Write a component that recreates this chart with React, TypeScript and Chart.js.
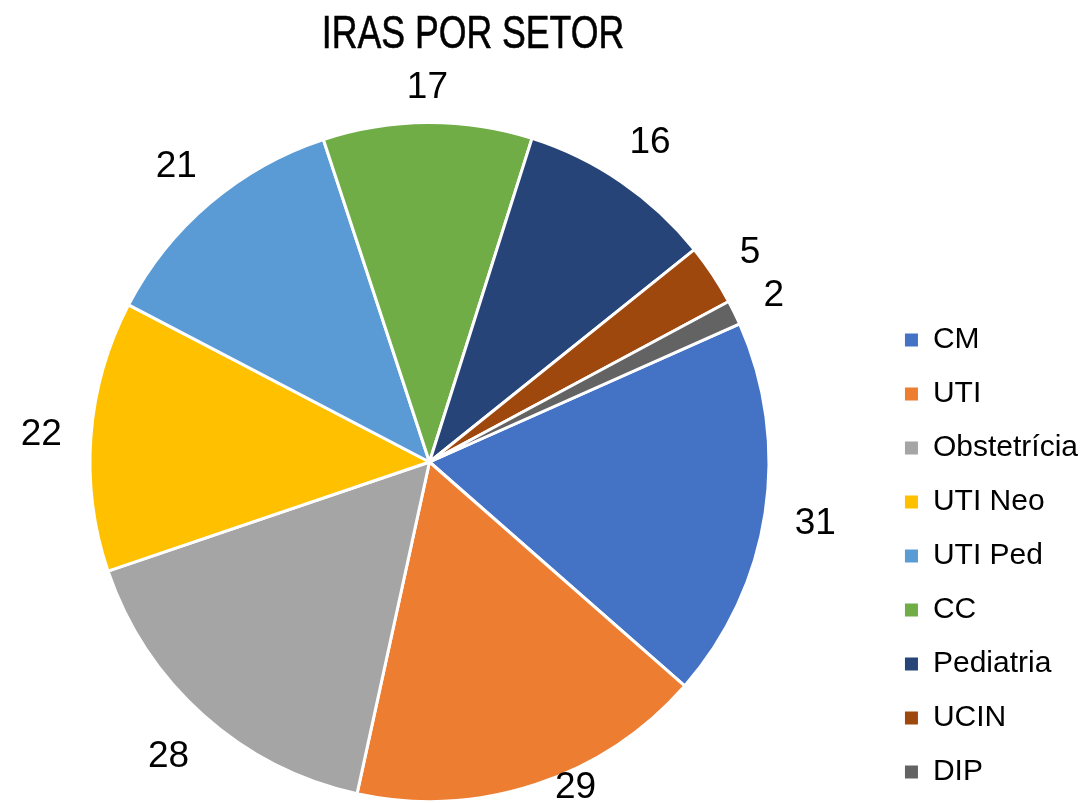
import { useEffect, useRef } from 'react';
import { Chart, registerables } from 'chart.js';

Chart.register(...registerables);

const chartTitle = 'IRAS POR SETOR';
const categories = ['CM', 'UTI', 'Obstetrícia', 'UTI Neo', 'UTI Ped', 'CC', 'Pediatria', 'UCIN', 'DIP'];
const values = [31, 29, 28, 22, 21, 17, 16, 5, 2];
const colors = ['#4472C4', '#ED7D31', '#A5A5A5', '#FFC000', '#5B9BD5', '#70AD47', '#264478', '#9E480E', '#636363'];

// canvas is slightly larger than the page and shifted left, so the pie can sit left of the chart-area centre
const SHIFT_X = 22;
const EXTRA_R = 5;
const CANVAS_W = 1083 + SHIFT_X + EXTRA_R;
const CANVAS_H = 811;

const LABEL_SIZE = 37;
const LABEL_FONT = `${LABEL_SIZE}px "Liberation Sans", Arial, sans-serif`;
const TITLE_FONT = '46px "Liberation Sans", Arial, sans-serif';

const titlePlugin = {
  id: 'customTitle',
  afterDraw(chart: any) {
    const ctx = chart.ctx;
    ctx.save();
    ctx.font = TITLE_FONT;
    ctx.fillStyle = '#000000';
    ctx.strokeStyle = '#000000';
    ctx.lineWidth = 0.6;
    ctx.textAlign = 'center';
    ctx.textBaseline = 'alphabetic';
    ctx.translate(473 + SHIFT_X, 48);
    ctx.scale(0.775, 1);
    ctx.fillText(chartTitle, 0, 0);
    ctx.strokeText(chartTitle, 0, 0);
    ctx.restore();
  },
};

const outLabelPlugin = {
  id: 'outLabels',
  afterDatasetsDraw(chart: any) {
    const ctx = chart.ctx;
    const meta = chart.getDatasetMeta(0);
    const data = chart.data.datasets[0].data;
    ctx.save();
    ctx.font = LABEL_FONT;
    ctx.fillStyle = '#000000';
    ctx.textAlign = 'center';
    ctx.textBaseline = 'alphabetic';
    const capH = LABEL_SIZE * 0.716;
    const boxH = 34;
    const maxY = 785;
    meta.data.forEach((arc: any, i: number) => {
      const p = arc.getProps(['x', 'y', 'startAngle', 'endAngle', 'outerRadius'], true);
      const mid = (p.startAngle + p.endAngle) / 2;
      const txt = String(data[i]);
      const w = ctx.measureText(txt).width + 14;
      const c = Math.cos(mid);
      const s = Math.sin(mid);
      const d = p.outerRadius + 21 + Math.abs(c) * w / 2 + Math.abs(s) * boxH / 2;
      let lx = p.x + c * d;
      let ly = p.y + s * d;
      if (ly > maxY) {
        // does not fit below: slide it along the rim until it fits
        ly = maxY;
        const dy = ly - p.y;
        const rr = p.outerRadius + 15;
        if (rr > Math.abs(dy)) lx = p.x + Math.sign(c) * Math.sqrt(rr * rr - dy * dy);
      }
      ctx.fillText(txt, lx, ly + capH / 2);
    });
    ctx.restore();
  },
};

export default function App() {
  const canvasRef = useRef<HTMLCanvasElement | null>(null);

  useEffect(() => {
    if (!canvasRef.current) return;
    const chart = new Chart(canvasRef.current, {
      type: 'pie',
      data: {
        labels: categories,
        datasets: [
          {
            data: values,
            backgroundColor: colors,
            borderColor: '#ffffff',
            borderWidth: 3,
          },
        ],
      },
      options: {
        animation: false,
        responsive: true,
        maintainAspectRatio: false,
        rotation: 66,
        radius: 339.5,
        layout: {
          padding: { left: 0, right: 0, top: 113, bottom: 0 },
        },
        plugins: {
          title: { display: false },
          tooltip: { enabled: false },
          legend: {
            position: 'right',
            align: 'end',
            labels: {
              boxWidth: 13,
              boxHeight: 13,
              padding: 24,
              color: '#000000',
              font: { size: 30, family: '"Liberation Sans", Arial, sans-serif' },
              generateLabels: () =>
                categories.map((c, i) => ({
                  text: c,
                  fillStyle: colors[i],
                  strokeStyle: colors[i],
                  lineWidth: 0,
                  hidden: false,
                  index: i,
                  fontColor: '#000000',
                })),
            },
          },
        },
      },
      plugins: [titlePlugin, outLabelPlugin],
    });
    return () => chart.destroy();
  }, []);

  return (
    <div style={{ position: 'absolute', left: 0, top: 0, width: 1083, height: 803, overflow: 'hidden', background: '#ffffff' }}>
      <div style={{ position: 'absolute', left: -SHIFT_X, top: 0, width: CANVAS_W, height: CANVAS_H }}>
        <canvas ref={canvasRef} />
      </div>
    </div>
  );
}
